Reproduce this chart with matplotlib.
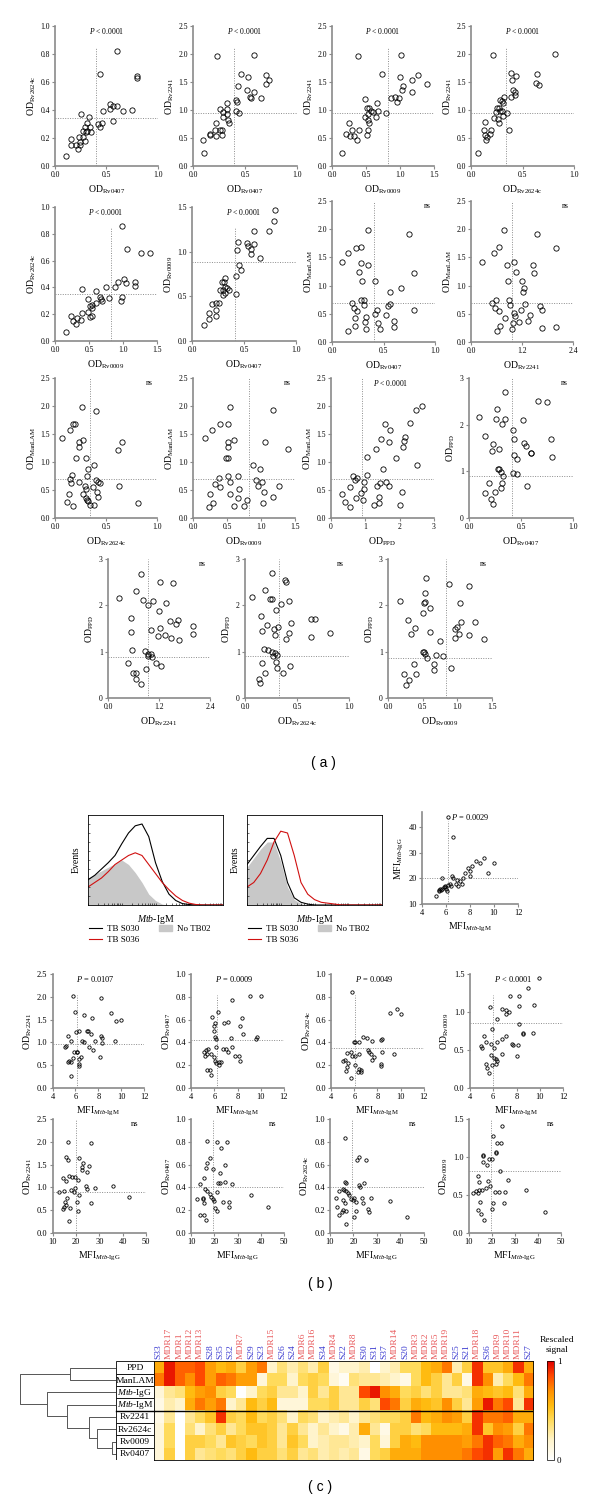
"""Recreate the multi-panel OD / MFI scatter + heatmap figure."""

import matplotlib
matplotlib.use("Agg")
import matplotlib.pyplot as plt
import matplotlib.colors as mcolors
from matplotlib.lines import Line2D
from matplotlib.patches import Patch, Rectangle
import numpy as np

W, H = 600, 1504
AXIS = "#8a8a8a"
DOT = "#8c8c8c"
BLUE = "#3a3ad0"
RED = "#e8585a"

plt.rcParams["font.family"] = ["Liberation Serif", "DejaVu Serif"]
plt.rcParams["mathtext.fontset"] = "custom"
plt.rcParams["mathtext.rm"] = "Liberation Serif"
plt.rcParams["mathtext.it"] = "Liberation Serif:italic"

# ---------------- panel (a) data ----------------
A1_X = [0.60,0.44,0.80,0.80,0.53,0.56,0.60,0.53,0.47,0.66,0.75,0.56,0.42,0.46,0.44,0.25,0.33,0.31,0.29,0.34,0.27,0.31,0.35,0.30,0.23,0.27,0.29,0.16,0.16,0.20,0.24,0.22,0.11,0.24]
A1_Y = [0.82,0.66,0.63,0.64,0.44,0.43,0.43,0.41,0.39,0.39,0.40,0.32,0.30,0.31,0.28,0.37,0.35,0.31,0.28,0.28,0.25,0.25,0.24,0.24,0.21,0.21,0.18,0.19,0.15,0.15,0.15,0.12,0.07,0.17]
A2_X = [0.23,0.59,0.46,0.53,0.70,0.73,0.70,0.43,0.52,0.59,0.55,0.56,0.65,0.41,0.42,0.33,0.26,0.33,0.41,0.44,0.29,0.33,0.29,0.34,0.35,0.22,0.26,0.21,0.28,0.28,0.22,0.16,0.16,0.10,0.11]
A2_Y = [1.96,1.99,1.65,1.59,1.62,1.53,1.46,1.43,1.35,1.32,1.24,1.21,1.21,1.18,1.14,1.12,1.02,1.02,0.98,0.95,0.96,0.92,0.88,0.83,0.76,0.77,0.65,0.65,0.64,0.55,0.53,0.55,0.58,0.47,0.24]
A3_X = [0.38,1.02,0.74,1.00,1.26,1.17,1.40,1.05,1.03,1.17,0.87,0.92,0.98,0.96,0.49,0.66,0.52,0.55,0.57,0.61,0.68,0.79,0.53,0.49,0.65,0.53,0.54,0.25,0.30,0.39,0.53,0.21,0.27,0.32,0.37,0.51,0.15]
A3_Y = [1.96,1.99,1.65,1.59,1.62,1.53,1.46,1.43,1.35,1.32,1.21,1.24,1.22,1.15,1.19,1.13,1.04,1.04,0.98,0.97,0.98,0.95,0.93,0.88,0.88,0.83,0.76,0.77,0.65,0.65,0.65,0.58,0.54,0.53,0.47,0.55,0.24]
A4_X = [0.21,0.82,0.39,0.64,0.44,0.40,0.63,0.66,0.41,0.43,0.43,0.39,0.32,0.28,0.30,0.31,0.25,0.27,0.28,0.24,0.30,0.35,0.31,0.22,0.26,0.27,0.14,0.37,0.13,0.19,0.18,0.14,0.16,0.15,0.07]
A4_Y = [1.99,2.00,1.66,1.64,1.60,1.53,1.48,1.45,1.36,1.33,1.26,1.23,1.23,1.17,1.16,1.13,1.04,1.03,0.99,0.96,0.98,0.95,0.90,0.86,0.84,0.76,0.79,0.65,0.65,0.65,0.58,0.55,0.51,0.47,0.24]
A5_X = [0.99,1.06,1.27,1.40,0.93,1.01,1.05,1.17,1.18,0.88,0.75,0.40,0.60,0.66,0.67,0.69,0.80,0.98,0.97,0.49,0.54,0.51,0.55,0.61,0.49,0.39,0.54,0.52,0.23,0.27,0.32,0.31,0.38,0.16]
A5_Y = [0.86,0.69,0.66,0.66,0.44,0.46,0.43,0.44,0.41,0.40,0.40,0.39,0.37,0.33,0.31,0.30,0.32,0.33,0.30,0.31,0.27,0.26,0.25,0.28,0.22,0.21,0.19,0.18,0.19,0.15,0.17,0.13,0.16,0.07]
A6_X = [0.80,0.79,0.60,0.74,0.44,0.53,0.54,0.57,0.60,0.43,0.57,0.65,0.45,0.47,0.42,0.42,0.29,0.32,0.31,0.32,0.27,0.30,0.34,0.36,0.32,0.30,0.19,0.23,0.26,0.23,0.23,0.16,0.16,0.12]
A6_Y = [1.47,1.34,1.23,1.23,1.11,1.10,1.06,1.03,1.09,1.02,0.97,0.93,0.85,0.80,0.73,0.53,0.66,0.70,0.66,0.61,0.57,0.57,0.59,0.57,0.54,0.52,0.41,0.43,0.43,0.35,0.28,0.31,0.25,0.18]
A7_X = [0.35,0.75,0.28,0.23,0.16,0.10,0.28,0.35,0.26,0.80,0.29,0.42,0.67,0.56,0.19,0.28,0.31,0.31,0.21,0.24,0.44,0.42,0.56,0.54,0.52,0.80,0.33,0.22,0.32,0.45,0.60,0.22,0.60,0.33,0.47,0.16]
A7_Y = [1.99,1.92,1.69,1.66,1.58,1.42,1.40,1.37,1.25,1.23,1.08,1.08,0.95,0.88,0.70,0.75,0.75,0.65,0.61,0.55,0.57,0.50,0.67,0.64,0.47,0.57,0.44,0.43,0.35,0.33,0.37,0.28,0.27,0.23,0.23,0.20]
A8_X = [0.77,1.55,1.99,0.66,0.55,0.26,0.84,1.01,1.46,1.05,1.48,0.88,1.21,1.25,1.23,0.58,0.49,0.90,0.92,0.56,0.66,1.27,1.62,1.66,1.01,1.17,1.04,1.38,0.80,1.13,1.34,0.98,0.68,0.60,0.96,1.68,2.01]
A8_Y = [1.98,1.92,1.67,1.69,1.58,1.42,1.37,1.41,1.36,1.25,1.23,1.08,1.08,0.95,0.88,0.75,0.70,0.75,0.65,0.61,0.55,0.68,0.64,0.56,0.52,0.57,0.46,0.47,0.43,0.36,0.38,0.33,0.28,0.20,0.23,0.24,0.27]
A9_X = [0.26,0.40,0.18,0.20,0.15,0.07,0.27,0.24,0.66,0.24,0.62,0.21,0.30,0.38,0.32,0.17,0.31,0.15,0.40,0.42,0.24,0.44,0.16,0.29,0.63,0.37,0.30,0.41,0.14,0.27,0.30,0.42,0.31,0.32,0.12,0.38,0.34,0.81,0.18]
A9_Y = [1.99,1.91,1.68,1.67,1.57,1.42,1.39,1.36,1.36,1.26,1.22,1.07,1.07,0.94,0.88,0.76,0.75,0.70,0.68,0.65,0.64,0.63,0.62,0.58,0.57,0.56,0.52,0.47,0.43,0.43,0.36,0.37,0.33,0.30,0.28,0.23,0.23,0.26,0.21]
A10_X = [0.55,1.17,0.39,0.52,0.28,0.17,0.61,0.52,1.06,1.40,0.51,0.49,0.51,0.88,0.98,0.52,0.66,0.38,0.93,1.01,0.54,0.32,0.96,1.27,0.40,0.68,1.04,0.55,0.25,1.17,0.66,0.80,0.30,1.03,0.60,0.75,0.23]
A10_Y = [1.99,1.92,1.67,1.68,1.58,1.43,1.40,1.36,1.36,1.24,1.26,1.07,1.08,0.94,0.88,0.75,0.75,0.71,0.67,0.64,0.65,0.61,0.57,0.57,0.55,0.51,0.47,0.43,0.42,0.37,0.35,0.32,0.27,0.26,0.22,0.22,0.19]
A11_X = [2.66,2.49,2.31,1.58,1.73,1.47,2.15,1.68,2.12,2.11,1.31,1.04,1.89,2.51,1.52,0.63,1.04,0.70,0.77,0.97,0.55,1.42,1.60,1.33,1.69,0.96,0.88,0.32,2.06,1.39,0.74,0.92,0.41,1.40,1.25,2.00,0.55]
A11_Y = [2.00,1.92,1.69,1.68,1.58,1.41,1.44,1.36,1.37,1.26,1.23,1.09,1.08,0.95,0.88,0.75,0.76,0.68,0.71,0.65,0.55,0.62,0.65,0.58,0.58,0.52,0.45,0.43,0.47,0.38,0.36,0.33,0.28,0.27,0.24,0.24,0.20]
A12_X = [0.35,0.66,0.75,0.27,0.10,0.26,0.35,0.32,0.52,0.42,0.15,0.43,0.79,0.53,0.55,0.60,0.60,0.23,0.29,0.22,0.80,0.43,0.46,0.28,0.29,0.31,0.42,0.46,0.33,0.32,0.19,0.56,0.31,0.15,0.25,0.21,0.23]
A12_Y = [2.69,2.51,2.49,2.33,2.17,2.12,2.12,2.01,2.09,1.89,1.76,1.69,1.69,1.61,1.54,1.40,1.39,1.59,1.47,1.44,1.31,1.35,1.26,1.05,1.04,0.99,0.96,0.94,0.89,0.76,0.75,0.69,0.64,0.54,0.55,0.41,0.31]
A13_X = [0.77,1.23,1.54,0.66,0.25,0.83,1.05,0.95,1.37,1.20,0.54,1.45,1.65,1.61,1.99,1.23,1.00,0.55,1.34,1.99,1.17,1.48,1.66,0.57,0.88,0.93,1.00,0.95,1.03,0.48,1.13,1.25,0.89,0.58,0.66,0.66,0.78]
A13_Y = [2.67,2.51,2.48,2.31,2.16,2.11,2.10,2.01,2.06,1.87,1.73,1.67,1.69,1.59,1.56,1.52,1.46,1.42,1.37,1.39,1.33,1.30,1.25,1.04,1.02,0.96,0.95,0.90,0.88,0.75,0.75,0.68,0.63,0.53,0.53,0.41,0.30]
A14_X = [0.26,0.38,0.39,0.19,0.07,0.24,0.26,0.35,0.42,0.30,0.15,0.63,0.67,0.21,0.32,0.44,0.28,0.16,0.42,0.29,0.63,0.82,0.39,0.18,0.22,0.26,0.29,0.31,0.27,0.30,0.16,0.43,0.31,0.19,0.37,0.13,0.14]
A14_Y = [2.70,2.54,2.51,2.33,2.17,2.13,2.13,2.03,2.10,1.89,1.76,1.70,1.70,1.58,1.54,1.61,1.48,1.44,1.40,1.35,1.32,1.41,1.27,1.05,1.04,1.00,0.97,0.92,0.90,0.77,0.75,0.68,0.65,0.55,0.55,0.41,0.32]
A15_X = [0.55,0.88,1.17,0.54,0.17,0.52,0.53,0.60,1.04,0.50,0.29,0.39,0.33,0.61,1.05,1.26,1.00,0.97,1.02,1.17,0.96,1.39,0.75,0.50,0.52,0.54,0.56,0.69,0.80,0.38,0.67,0.66,0.91,0.23,0.40,0.30,0.26]
A15_Y = [2.60,2.45,2.42,2.26,2.10,2.06,2.07,1.95,2.04,1.83,1.69,1.52,1.38,1.43,1.64,1.64,1.54,1.50,1.38,1.36,1.30,1.27,1.22,0.99,1.00,0.96,0.86,0.93,0.90,0.73,0.73,0.61,0.65,0.52,0.52,0.38,0.29]

# cut-off values (x, y) of each (a) panel
A_CUTOFFS = [(0.40, 0.34), (0.39, 0.94), (0.83, 0.94), (0.34, 0.94), (0.83, 0.35),
             (0.41, 0.88), (0.41, 0.69), (0.96, 0.69), (0.34, 0.69), (0.83, 0.69),
             (0.91, 0.69), (0.41, 0.90), (0.95, 0.89), (0.33, 0.90), (0.83, 0.86)]
A_XNAMES = ["Rv0407", "Rv0407", "Rv0009", "Rv2624c", "Rv0009", "Rv0407", "Rv0407", "Rv2241",
            "Rv2624c", "Rv0009", "PPD", "Rv0407", "Rv2241", "Rv2624c", "Rv0009"]
A_YNAMES = ["Rv2624c", "Rv2241", "Rv2241", "Rv2241", "Rv2624c", "Rv0009", "ManLAM", "ManLAM",
            "ManLAM", "ManLAM", "ManLAM", "PPD", "PPD", "PPD", "PPD"]
A_NOTES = ["P < 0.0001"] * 6 + ["ns"] * 4 + ["P < 0.0001"] + ["ns"] * 4

# axis ticks per antigen
X_TICKS = {"Rv0407": [0, 0.5, 1.0], "Rv0009": [0, 0.5, 1.0, 1.5], "Rv2624c": [0, 0.5, 1.0],
           "Rv2241": [0, 1.2, 2.4], "PPD": [0, 1, 2, 3]}
Y_TICKS = {"Rv2624c": [0, 0.2, 0.4, 0.6, 0.8, 1.0], "Rv2241": [0, 0.5, 1.0, 1.5, 2.0, 2.5],
           "Rv0009": [0, 0.5, 1.0, 1.5], "ManLAM": [0, 0.5, 1.0, 1.5, 2.0, 2.5],
           "PPD": [0, 1, 2, 3], "Rv0407": [0, 0.2, 0.4, 0.6, 0.8, 1.0]}

# ---------------- panel (b) data ----------------
# flow histograms: x in log10 decades, heights relative to frame
HIST_X = [0.0, 0.2, 0.4, 0.6, 0.8, 1.0, 1.2, 1.4, 1.6, 1.8, 2.0, 2.2, 2.4, 2.6, 2.8, 3.0, 3.2, 3.4, 3.6, 3.8, 4.0]
H1_S030 = [0.28, 0.33, 0.40, 0.47, 0.55, 0.68, 0.80, 0.88, 0.90, 0.76, 0.47, 0.26, 0.12, 0.05, 0.015, 0.005, 0, 0, 0, 0, 0]
H1_S036 = [0.20, 0.25, 0.30, 0.37, 0.45, 0.50, 0.55, 0.58, 0.55, 0.45, 0.35, 0.25, 0.17, 0.10, 0.05, 0.02, 0.005, 0, 0, 0, 0]
H1_TB02 = [0.30, 0.34, 0.38, 0.42, 0.46, 0.50, 0.45, 0.36, 0.25, 0.12, 0.05, 0.01, 0, 0, 0, 0, 0, 0, 0, 0, 0]
H2_S030 = [0.45, 0.55, 0.65, 0.74, 0.74, 0.55, 0.25, 0.08, 0.03, 0.01, 0, 0, 0, 0, 0, 0, 0, 0, 0, 0, 0]
H2_S036 = [0.20, 0.25, 0.35, 0.50, 0.70, 0.82, 0.80, 0.55, 0.25, 0.12, 0.06, 0.03, 0.02, 0.01, 0, 0, 0, 0, 0, 0, 0]
H2_TB02 = [0.42, 0.52, 0.62, 0.70, 0.70, 0.48, 0.20, 0.06, 0.015, 0, 0, 0, 0, 0, 0, 0, 0, 0, 0, 0, 0]

B0_X = [6.14,6.56,5.67,5.2,5.4,5.5,5.6,5.8,5.9,6.0,6.1,6.2,6.3,6.5,6.6,6.8,7.0,7.2,7.4,7.6,7.8,8.0,8.2,8.5,8.8,9.2,9.5,10.0,5.45,5.7,5.95,6.4,6.9,7.3,8.0]
B0_Y = [44.0,36.3,20.1,13,15,16,15.5,16.5,17,16,15,17.5,18,21,20,18,17,19,20,22,24,23,25,27,26,28,22,26,15.5,16,16.5,17,19.5,18,21]

B1_X = [5.80,8.18,5.96,6.78,9.07,7.46,9.56,9.95,7.03,7.07,7.33,6.03,6.29,8.18,8.31,5.37,7.67,6.55,6.71,5.63,9.42,8.31,7.17,7.53,5.18,5.05,5.86,6.09,6.12,8.12,6.48,6.29,5.80,5.41,5.31,5.57,6.35,6.35,5.63]
B1_Y = [2.01,1.98,1.67,1.61,1.64,1.54,1.48,1.49,1.26,1.24,1.18,1.22,1.25,1.15,1.10,1.15,1.04,1.04,1.00,1.02,1.02,0.98,0.89,0.84,0.92,0.90,0.80,0.79,0.79,0.67,0.67,0.63,0.65,0.59,0.57,0.57,0.52,0.48,0.26]
B2_X = [9.11,10.05,7.56,6.33,5.78,8.37,6.85,7.14,6.04,6.01,8.24,8.47,6.01,6.07,7.46,9.66,9.57,6.10,5.46,6.10,6.78,7.01,7.17,7.49,7.75,8.14,8.21,5.10,5.26,5.39,5.68,5.94,5.23,6.04,6.37,6.43,6.53,6.17,5.33,5.62,5.68]
B2_Y = [0.81,0.81,0.77,0.67,0.62,0.61,0.57,0.58,0.57,0.54,0.54,0.47,0.50,0.45,0.44,0.45,0.43,0.43,0.34,0.36,0.34,0.34,0.32,0.36,0.28,0.28,0.24,0.32,0.33,0.30,0.30,0.27,0.28,0.24,0.23,0.20,0.23,0.22,0.16,0.16,0.11]
B3_X = [5.84,9.08,9.66,10.05,5.97,6.10,6.75,7.07,6.43,7.53,8.37,8.27,9.47,8.43,6.43,7.20,7.30,7.46,7.72,7.56,8.27,8.27,6.10,5.84,5.68,5.39,5.20,5.00,5.46,6.10,6.43,6.56,6.33,6.59,5.36,5.71,5.30]
B3_Y = [0.84,0.66,0.69,0.65,0.40,0.40,0.45,0.44,0.40,0.41,0.43,0.42,0.30,0.32,0.30,0.33,0.32,0.30,0.27,0.25,0.21,0.19,0.28,0.28,0.32,0.31,0.25,0.24,0.22,0.20,0.17,0.16,0.14,0.14,0.18,0.09,0.15]
B4_X = [9.92,8.98,7.44,8.24,9.53,8.21,5.77,6.73,7.12,7.34,7.12,6.32,8.24,5.90,6.80,6.32,7.12,5.19,5.00,5.03,5.35,5.83,6.09,5.83,6.09,6.80,7.60,7.70,8.15,8.08,8.57,8.57,9.43,6.25,6.35,6.22,5.35,5.51,5.67,5.90]
B4_Y = [1.45,1.31,1.21,1.21,1.09,1.08,1.07,1.04,1.03,1.00,0.97,0.91,0.84,0.77,0.64,0.61,0.69,0.69,0.55,0.53,0.60,0.58,0.53,0.43,0.40,0.45,0.58,0.56,0.56,0.42,0.72,0.71,0.72,0.38,0.35,0.31,0.31,0.26,0.20,0.30]
B5_X = [16.7,26.5,15.6,16.7,21.5,23.0,25.5,22.5,22.8,24.6,14.5,17.2,18.5,19.6,20.9,15.8,24.2,24.8,28.0,36.0,19.4,17.7,19.0,14.8,12.9,21.5,16.4,20.4,15.3,15.8,15.0,14.5,17.3,26.5,21.0,42.8,16.9]
B5_Y = [1.99,1.98,1.66,1.61,1.64,1.53,1.48,1.45,1.38,1.33,1.20,1.25,1.23,1.23,1.17,1.15,1.04,0.96,0.98,1.04,0.98,0.94,0.90,0.93,0.89,0.84,0.76,0.68,0.68,0.61,0.57,0.53,0.55,0.66,0.48,0.80,0.26]
B6_X = [16.8,21.0,25.4,22.9,18.1,16.8,16.5,19.4,24.6,15.5,22.3,24.4,21.6,22.6,27.5,14.0,16.1,16.8,21.3,18.1,14.9,18.7,14.9,19.4,12.4,20.0,15.7,23.6,26.5,35.6,26.5,20.2,21.0,43.2,14.0,15.7,16.5]
B6_Y = [0.81,0.80,0.80,0.75,0.66,0.61,0.57,0.56,0.60,0.48,0.53,0.45,0.44,0.44,0.43,0.43,0.39,0.37,0.36,0.34,0.31,0.32,0.30,0.30,0.30,0.28,0.26,0.27,0.27,0.33,0.23,0.22,0.19,0.23,0.16,0.16,0.11]
B7_X = [16.4,21.5,22.5,25.2,16.4,16.7,22.5,22.8,24.4,15.6,16.1,14.0,16.9,17.6,17.9,19.0,19.7,20.4,21.2,23.6,24.1,27.6,35.6,12.4,15.6,16.4,12.9,15.1,15.6,14.0,16.9,20.9,26.3,26.8,20.1,42.8,16.7]
B7_Y = [0.83,0.64,0.67,0.64,0.45,0.44,0.42,0.40,0.44,0.39,0.38,0.37,0.37,0.35,0.33,0.30,0.29,0.31,0.27,0.31,0.26,0.31,0.28,0.31,0.29,0.26,0.23,0.18,0.20,0.16,0.19,0.19,0.21,0.18,0.14,0.14,0.08]
B8_X = [24.6,20.7,22.3,23.9,21.8,22.0,16.0,16.0,18.6,20.0,16.1,17.8,23.4,14.2,26.8,18.4,14.5,19.2,17.4,13.2,14.5,15.7,11.9,14.0,21.2,22.9,25.7,34.6,14.9,20.7,25.4,13.9,19.9,15.2,16.5,43.0]
B8_Y = [1.41,1.28,1.19,1.18,1.06,1.05,1.03,1.01,0.98,0.97,0.93,0.90,0.81,0.75,0.70,0.69,0.67,0.62,0.59,0.55,0.56,0.56,0.52,0.52,0.54,0.54,0.54,0.56,0.41,0.40,0.40,0.30,0.31,0.25,0.17,0.27]

B_CUTOFFS = [(6.12, 0.96), (6.2, 0.42), (6.1, 0.35), (6.0, 0.85),
             (19.9, 0.90), (19.2, 0.40), (19.6, 0.40), (19.5, 0.81)]
B_YNAMES = ["Rv2241", "Rv0407", "Rv2624c", "Rv0009"] * 2
B_NOTES = ["P = 0.0107", "P = 0.0009", "P = 0.0049", "P < 0.0001"] + ["ns"] * 4

# ---------------- panel (c) data ----------------
SAMPLES = ["S33", "MDR17", "MDR1", "MDR12", "MDR13", "S28", "S35", "S32", "MDR7", "S29", "S23",
           "MDR15", "S26", "S24", "MDR6", "MDR16", "S34", "MDR4", "S22", "MDR8", "S30", "S31",
           "S37", "MDR14", "S20", "MDR3", "MDR2", "MDR5", "MDR19", "S25", "S21", "MDR18", "S36",
           "MDR9", "MDR10", "MDR11", "S27"]
FEATURES = ["PPD", "ManLAM", "Mtb-IgG", "Mtb-IgM", "Rv2241", "Rv2624c", "Rv0009", "Rv0407"]
PPD_ROW = [0.6,0.95,0.8,0.8,0.85,0.65,0.55,0.6,0.45,0.65,0.75,0.2,0.35,0.25,0.35,0.25,0.45,0.1,0.2,0.2,0.25,0.0,0.2,0.25,0.4,0.4,0.55,0.6,0.75,0.25,0.45,0.9,0.5,0.5,0.6,0.9,0.6]
MANLAM_ROW = [0.75,0.95,0.8,0.7,0.85,0.65,0.8,0.75,0.65,0.65,0.15,0.4,0.4,0.2,0.4,0.45,0.4,0.15,0.05,0.35,0.3,0.3,0.25,0.2,0.1,0.4,0.55,0.45,0.3,0.45,0.1,0.9,0.7,0.25,0.4,0.55,0.75]
IGG_ROW = [0.15,0.3,0.35,0.55,0.65,0.7,0.45,0.4,0.0,0.2,0.4,0.45,0.3,0.3,0.2,0.45,0.3,0.45,0.3,0.3,0.85,0.95,0.7,0.6,0.4,0.45,0.35,0.45,0.3,0.3,0.35,0.6,0.55,0.5,0.55,0.35,0.6]
IGM_ROW = [0.1,0.25,0.2,0.6,0.75,0.65,0.75,0.2,0.3,0.55,0.45,0.55,0.15,0.15,0.15,0.4,0.4,0.45,0.3,0.3,0.45,0.35,0.85,0.75,0.45,0.6,0.55,0.5,0.7,0.45,0.3,0.65,0.95,0.75,0.85,0.3,0.9]
RV2241_ROW = [0.1,0.3,0.0,0.3,0.4,0.5,0.9,0.45,0.4,0.55,0.4,0.45,0.35,0.2,0.4,0.35,0.2,0.25,0.3,0.2,0.3,0.35,0.4,0.4,0.45,0.75,0.55,0.6,0.7,0.65,0.45,0.9,0.75,0.75,0.8,0.6,0.6]
RV2624C_ROW = [0.15,0.4,0.0,0.35,0.2,0.35,0.45,0.3,0.4,0.5,0.5,0.45,0.3,0.45,0.3,0.2,0.3,0.2,0.1,0.25,0.6,0.3,0.1,0.45,0.45,0.35,0.4,0.55,0.55,0.55,0.6,0.9,0.5,0.7,0.65,0.45,0.75]
RV0009_ROW = [0.15,0.4,0.0,0.45,0.45,0.4,0.3,0.5,0.45,0.4,0.5,0.45,0.3,0.5,0.4,0.2,0.25,0.3,0.3,0.25,0.2,0.4,0.15,0.45,0.6,0.55,0.7,0.7,0.7,0.7,0.65,0.75,0.9,0.8,0.75,0.6,0.7]
RV0407_ROW = [0.15,0.45,0.0,0.45,0.3,0.35,0.4,0.35,0.45,0.55,0.45,0.45,0.35,0.45,0.3,0.35,0.25,0.3,0.25,0.3,0.1,0.4,0.45,0.6,0.6,0.6,0.7,0.7,0.7,0.7,0.75,0.85,0.9,0.65,0.9,0.75,0.6]
# dendrogram merges: (left node, right node, height); nodes 0-7 are rows, 8+ merges
DENDRO = [(6, 7, 0.04), (5, 8, 0.20), (4, 9, 0.28), (3, 10, 0.51), (2, 11, 0.72),
          (0, 1, 0.48), (13, 12, 1.0)]


def add_ax(fig, x0, y0, x1, y1):
    """Axes from a pixel box (left, top, right, bottom)."""
    return fig.add_axes([x0 / W, 1 - y1 / H, (x1 - x0) / W, (y1 - y0) / H])


def od(name):
    return "OD$_{\\mathrm{" + name + "}}$"


def mfi(kind):
    return "MFI$_{\\mathit{Mtb}\\mathrm{\u2010" + kind + "}}$"


def fmt_ticks(ticks):
    if all(float(t).is_integer() for t in ticks) and max(ticks) > 2:
        return ["{:g}".format(t) for t in ticks]
    return ["{:.1f}".format(t) for t in ticks]


def scatter_panel(ax, xs, ys, xt, yt, xlab, ylab, cut, note, note_x, vtop,
                  ms=3.8, fs=5.5, lfs=7.0):
    ax.plot(xs, ys, "o", ms=ms, mfc="none", mec="black", mew=0.6,
            clip_on=False, zorder=3)
    ax.set_xlim(xt[0], xt[-1])
    ax.set_ylim(yt[0], yt[-1])
    ax.axvline(cut[0], ymax=vtop, color=DOT, lw=0.7, ls=(0, (1, 1.5)))
    ax.axhline(cut[1], color=DOT, lw=0.7, ls=(0, (1, 1.5)))
    ax.set_xticks(xt)
    ax.set_xticklabels(fmt_ticks(xt))
    ax.set_yticks(yt)
    ax.set_yticklabels(fmt_ticks(yt))
    for s in ("top", "right"):
        ax.spines[s].set_visible(False)
    for s in ("left", "bottom"):
        ax.spines[s].set_color(AXIS)
        ax.spines[s].set_linewidth(1.2)
    ax.tick_params(length=2.2, width=0.8, color=AXIS, labelsize=fs, pad=1.5)
    ax.set_xlabel(xlab, fontsize=lfs, labelpad=3)
    ax.set_ylabel(ylab, fontsize=lfs, labelpad=2)
    ax.patch.set_alpha(0)
    if note.startswith("P"):
        txt = "$P$" + note[1:]
        ax.text(note_x, 1.0, txt, transform=ax.transAxes, ha="center", va="top", fontsize=fs)
    else:
        ax.text(note_x, 0.99, note, transform=ax.transAxes, ha="center", va="top", fontsize=fs)


def hist_panel(ax, s030, s036, tb02):
    ax.fill_between(HIST_X, tb02, color="#c8c8c8", lw=0)
    ax.plot(HIST_X, s030, color="black", lw=0.8)
    ax.plot(HIST_X, s036, color="#d01010", lw=0.8)
    ax.set_xlim(0, 4)
    ax.set_ylim(0, 1.0)
    minor = [d + np.log10(k) for d in range(4) for k in range(1, 10)]
    ax.set_xticks(minor)
    ax.set_xticklabels([])
    ax.set_yticks(np.arange(0.1, 1.0, 0.1))
    ax.set_yticklabels([])
    ax.tick_params(length=1.5, width=0.4, direction="in")
    for s in ax.spines.values():
        s.set_linewidth(0.6)
    ax.set_ylabel("Events", fontsize=7, labelpad=2)
    ax.set_xlabel("$\\mathit{Mtb}$\u2010IgM", fontsize=7, labelpad=2)
    handles = [Line2D([], [], color="black", lw=0.8), Line2D([], [], color="#d01010", lw=0.8),
               Patch(color="#c8c8c8")]
    ax.legend(handles, ["TB S030", "TB S036", "No TB02"], ncol=2, frameon=False,
              fontsize=6.5, loc="upper left", bbox_to_anchor=(-0.02, -0.18),
              handlelength=1.4, handletextpad=0.6, columnspacing=2.2, labelspacing=0.3,
              borderaxespad=0)


def make_figure():
    fig = plt.figure(figsize=(W / 100, H / 100), dpi=100)

    # ---------- (a) ----------
    a_boxes = [(55, 26, 158, 166), (193, 26, 297, 166), (332, 26, 434, 166), (471, 26, 574, 166),
               (55, 207, 157, 341), (192, 207, 296, 341), (332, 201, 435, 342), (471, 201, 573, 342),
               (55, 378, 157, 518), (193, 378, 295, 518), (331, 378, 434, 518), (469, 378, 573, 518),
               (108, 559, 210, 698), (245, 559, 349, 698), (388, 559, 492, 698)]
    a_data = [(A1_X, A1_Y), (A2_X, A2_Y), (A3_X, A3_Y), (A4_X, A4_Y), (A5_X, A5_Y),
              (A6_X, A6_Y), (A7_X, A7_Y), (A8_X, A8_Y), (A9_X, A9_Y), (A10_X, A10_Y),
              (A11_X, A11_Y), (A12_X, A12_Y), (A13_X, A13_Y), (A14_X, A14_Y), (A15_X, A15_Y)]
    for i, ((xs, ys), box) in enumerate(zip(a_data, a_boxes)):
        ax = add_ax(fig, *box)
        note = A_NOTES[i]
        if i < 6:
            nx, vtop = 0.5, 0.85
        elif i == 10:
            nx, vtop = 0.58, 1.0
        else:
            nx, vtop = 0.92, 1.0
        scatter_panel(ax, xs, ys, X_TICKS[A_XNAMES[i]], Y_TICKS[A_YNAMES[i]],
                      od(A_XNAMES[i]), od(A_YNAMES[i]), A_CUTOFFS[i], note, nx, vtop)
    fig.text(323 / W, 1 - 763 / H, "( a )", family="Liberation Sans", fontsize=10,
             ha="center", va="center")

    # ---------- (b) ----------
    h1 = add_ax(fig, 88, 815, 223, 905)
    hist_panel(h1, H1_S030, H1_S036, H1_TB02)
    h2 = add_ax(fig, 247, 815, 382, 905)
    hist_panel(h2, H2_S030, H2_S036, H2_TB02)

    s0 = add_ax(fig, 422, 812, 518, 904)
    scatter_panel(s0, B0_X, B0_Y, [4, 6, 8, 10, 12], [10, 20, 30, 40], mfi("IgM"), mfi("IgG"),
                  (6.15, 20), "P = 0.0029", 0.5, 0.9, ms=2.4, fs=6.0)
    s0.set_ylim(10, 46)

    b_boxes = [(52.5, 974, 144.4, 1088), (191.2, 974, 283.9, 1088),
               (331.1, 974, 423.7, 1088), (469.8, 974, 563.2, 1088),
               (52.5, 1119, 146.2, 1233), (191.2, 1119, 283.9, 1233),
               (330, 1119, 423.7, 1233), (468.7, 1119, 561.3, 1233)]
    b_data = [(B1_X, B1_Y), (B2_X, B2_Y), (B3_X, B3_Y), (B4_X, B4_Y),
              (B5_X, B5_Y), (B6_X, B6_Y), (B7_X, B7_Y), (B8_X, B8_Y)]
    for i, ((xs, ys), box) in enumerate(zip(b_data, b_boxes)):
        ax = add_ax(fig, *box)
        yname = B_YNAMES[i]
        if i < 4:
            xt, xlab, nx, vtop = [4, 6, 8, 10, 12], mfi("IgM"), 0.47, 0.82
        else:
            xt, xlab, nx, vtop = [10, 20, 30, 40, 50], mfi("IgG"), 0.88, 1.0
        scatter_panel(ax, xs, ys, xt, Y_TICKS[yname], xlab, od(yname), B_CUTOFFS[i],
                      B_NOTES[i], nx, vtop, ms=2.4, fs=6.0)
    fig.text(320 / W, 1 - 1284 / H, "( b )", family="Liberation Sans", fontsize=10,
             ha="center", va="center")

    # ---------- (c) ----------
    top, bottom = 1361.4, 1460.0
    hm = add_ax(fig, 153.7, top, 533.2, bottom)
    cmap = mcolors.LinearSegmentedColormap.from_list(
        "rescaled", [(0, "#ffffff"), (0.2, "#fff4cc"), (0.4, "#ffdb5c"), (0.55, "#ffbb10"),
                     (0.7, "#ff9000"), (0.85, "#ff4a00"), (1.0, "#e00000")])
    values = np.array([PPD_ROW, MANLAM_ROW, IGG_ROW, IGM_ROW, RV2241_ROW, RV2624C_ROW,
                       RV0009_ROW, RV0407_ROW])
    im = hm.imshow(values, cmap=cmap, vmin=0, vmax=1, aspect="auto", interpolation="nearest")
    hm.xaxis.tick_top()
    hm.set_xticks(range(len(SAMPLES)))
    hm.set_xticklabels(SAMPLES, rotation=90, fontsize=6.8)
    for lab in hm.get_xticklabels():
        lab.set_color(RED if lab.get_text().startswith("MDR") else BLUE)
    hm.set_yticks([])
    hm.tick_params(length=0, pad=2)
    hm.axhline(3.5, color="black", lw=1.0)
    for s in hm.spines.values():
        s.set_linewidth(0.6)

    # row-label boxes
    lb = add_ax(fig, 116.2, top, 153.7, bottom)
    lb.set_xlim(0, 1)
    lb.set_ylim(len(FEATURES), 0)
    lb.axis("off")
    for r, name in enumerate(FEATURES):
        lb.add_patch(Rectangle((0, r), 1, 1, fc="white", ec="black", lw=0.6))
        if name.startswith("Mtb"):
            label = "$\\mathit{Mtb}$\u2010" + name.split("-")[1]
        else:
            label = name
        lb.text(0.5, r + 0.55, label, ha="center", va="center", fontsize=6.8)
    lb.plot([0, 1], [4, 4], color="black", lw=1.0, clip_on=False)

    # dendrogram
    dn = add_ax(fig, 19.5, top, 116.2, bottom)
    dn.set_xlim(1.0, 0)
    dn.set_ylim(len(FEATURES), 0)
    dn.axis("off")
    pos = {i: (0.0, i + 0.5) for i in range(len(FEATURES))}
    for k, (a, b, h) in enumerate(DENDRO):
        (ha, ya), (hb, yb) = pos[a], pos[b]
        dn.plot([ha, h, h, hb], [ya, ya, yb, yb], color="#555555", lw=0.7)
        pos[len(FEATURES) + k] = (h, (ya + yb) / 2)

    # colour bar
    cax = add_ax(fig, 547.4, top, 554.2, bottom)
    cb = fig.colorbar(im, cax=cax, ticks=[0, 1])
    cb.ax.set_yticklabels(["0", "1"], fontsize=6.5)
    cb.ax.tick_params(length=0, pad=2)
    cb.outline.set_linewidth(0.5)
    fig.text(557 / W, 1 - 1345 / H, "Rescaled\nsignal", ha="center", va="center",
             fontsize=6.8, linespacing=1.2)

    fig.text(320 / W, 1 - 1487 / H, "( c )", family="Liberation Sans", fontsize=10,
             ha="center", va="center")

    fig.savefig("out.png", dpi=100, facecolor="white")
    plt.close(fig)


if __name__ == "__main__":
    make_figure()
